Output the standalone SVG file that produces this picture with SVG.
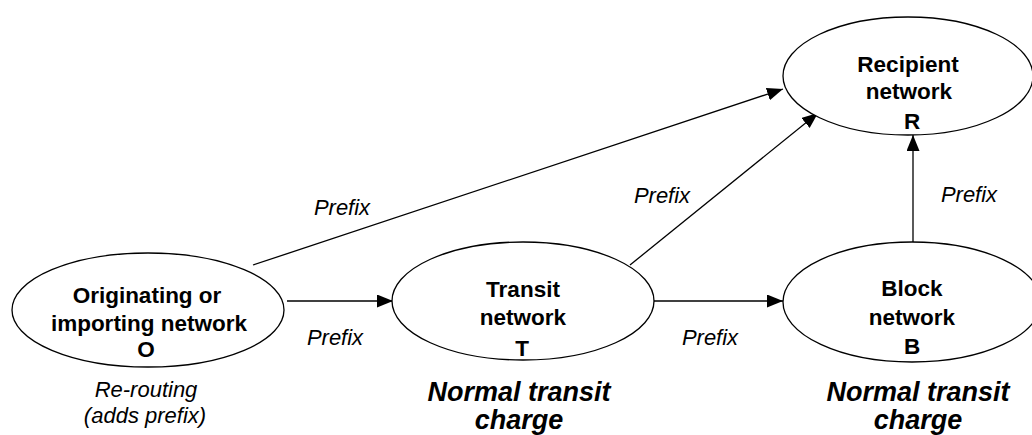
<svg xmlns="http://www.w3.org/2000/svg" width="1032" height="435" viewBox="0 0 1032 435">
<style>
.node{fill:#fff;stroke:#000;stroke-width:1.3}
.lbl{font-family:"Liberation Sans",Arial,sans-serif;font-weight:bold;font-size:22.5px;text-anchor:middle;fill:#000}
.pre{font-family:"Liberation Sans",Arial,sans-serif;font-style:italic;font-size:22px;text-anchor:middle;fill:#000}
.chg{font-family:"Liberation Sans",Arial,sans-serif;font-style:italic;font-weight:bold;font-size:27px;text-anchor:middle;fill:#000}
.edge{stroke:#000;stroke-width:1.3;fill:none;marker-end:url(#arr)}
</style>
<defs>
<marker id="arr" markerUnits="userSpaceOnUse" markerWidth="17" markerHeight="14" refX="16" refY="6.5" orient="auto">
<path d="M0,0 L16,6.5 L0,13 z" fill="#000"/>
</marker>
</defs>
<rect width="1032" height="435" fill="#fff"/>
<g id="connectors">
<line class="edge" x1="287" y1="301" x2="393" y2="301"/>
<line class="edge" x1="654" y1="301" x2="783" y2="301"/>
<line class="edge" x1="253" y1="265" x2="783" y2="89"/>
<line class="edge" x1="630" y1="265" x2="818" y2="113"/>
<line class="edge" x1="913" y1="242" x2="913" y2="135"/>
<text class="pre" x="342" y="215">Prefix</text>
<text class="pre" x="662" y="203">Prefix</text>
<text class="pre" x="969" y="202">Prefix</text>
<text class="pre" x="335" y="345">Prefix</text>
<text class="pre" x="710" y="345">Prefix</text>
</g>
<g id="node-O">
<ellipse class="node" cx="148" cy="310" rx="136" ry="57"/>
<text class="lbl" x="147" y="303">Originating or</text>
<text class="lbl" x="149" y="331">importing network</text>
<text class="lbl" x="146" y="357">O</text>
<text class="pre" x="146" y="397">Re-routing</text>
<text class="pre" x="145" y="423">(adds prefix)</text>
</g>
<g id="node-T">
<ellipse class="node" cx="523" cy="301" rx="131" ry="59"/>
<text class="lbl" x="523" y="297">Transit</text>
<text class="lbl" x="523" y="325">network</text>
<text class="lbl" x="522" y="356">T</text>
<text class="chg" x="519" y="401">Normal transit</text>
<text class="chg" x="519" y="429">charge</text>
</g>
<g id="node-R">
<ellipse class="node" cx="908" cy="76" rx="125" ry="59"/>
<text class="lbl" x="908" y="72">Recipient</text>
<text class="lbl" x="909" y="99">network</text>
<text class="lbl" x="912" y="129">R</text>
</g>
<g id="node-B">
<ellipse class="node" cx="912" cy="302" rx="129" ry="60"/>
<text class="lbl" x="912" y="296">Block</text>
<text class="lbl" x="912" y="325">network</text>
<text class="lbl" x="912" y="354">B</text>
<text class="chg" x="918" y="401">Normal transit</text>
<text class="chg" x="918" y="429">charge</text>
</g>
</svg>
